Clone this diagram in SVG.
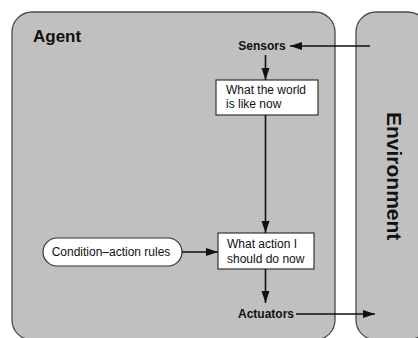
<svg xmlns="http://www.w3.org/2000/svg" width="418" height="338" viewBox="0 0 418 338">
<style>
.panel{fill:#c0c0c0;stroke:#4a4a4a;stroke-width:1.3}
.box{fill:#fff;stroke:#333;stroke-width:1.2}
.t{font-family:"Liberation Sans",Arial,sans-serif;font-size:12px;fill:#111}
.b{font-weight:bold}
.c{stroke:#111;stroke-width:1.6;fill:none;marker-end:url(#ah)}
</style>
<defs>
<marker id="ah" markerUnits="userSpaceOnUse" markerWidth="13" markerHeight="9" refX="12" refY="4" orient="auto">
<path d="M0,0 L12,4 L0,8 Z" fill="#111"/>
</marker>
</defs>
<rect width="418" height="338" fill="#fff"/>
<g id="agent">
<rect class="panel" x="12" y="12" width="323" height="328" rx="20" ry="20"/>
<text x="33" y="42" font-family="Liberation Sans,Arial,sans-serif" font-size="17" font-weight="bold" fill="#111">Agent</text>
</g>
<g id="environment">
<rect class="panel" x="356" y="12" width="72" height="328" rx="20" ry="20"/>
<text transform="translate(387,112) rotate(90)" font-family="Liberation Sans,Arial,sans-serif" font-size="21" font-weight="bold" fill="#111">Environment</text>
</g>
<g id="sensors">
<text class="t b" x="262" y="50" text-anchor="middle">Sensors</text>
</g>
<g id="world">
<rect class="box" x="216" y="80" width="102" height="35"/>
<text class="t" x="226" y="94">What the world</text>
<text class="t" x="226" y="108">is like now</text>
</g>
<g id="action">
<rect class="box" x="218" y="233" width="96" height="36"/>
<text class="t" x="227" y="248">What action I</text>
<text class="t" x="227" y="263">should do now</text>
</g>
<g id="rules">
<rect class="box" x="43" y="238" width="139" height="28" rx="14" ry="14"/>
<text class="t" x="111" y="256" text-anchor="middle">Condition–action rules</text>
</g>
<g id="actuators">
<text class="t b" x="266" y="318" text-anchor="middle">Actuators</text>
</g>
<g id="connectors">
<line class="c" x1="370" y1="46" x2="290" y2="46"/>
<line class="c" x1="265.5" y1="55" x2="265.5" y2="80"/>
<line class="c" x1="265.5" y1="115" x2="265.5" y2="233"/>
<line class="c" x1="182" y1="252" x2="218" y2="252"/>
<line class="c" x1="265.5" y1="269" x2="265.5" y2="303"/>
<line class="c" x1="296" y1="314" x2="375" y2="314"/>
</g>
</svg>
